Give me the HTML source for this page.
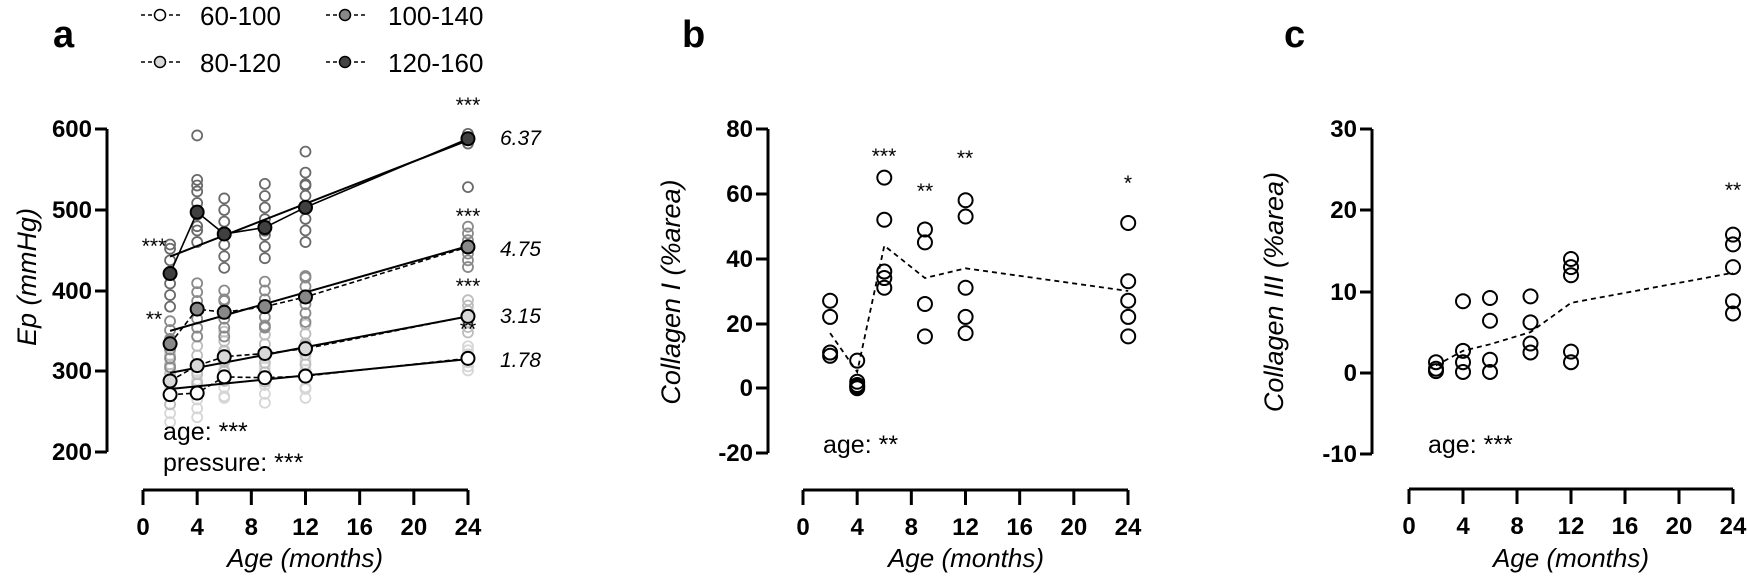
<!DOCTYPE html>
<html><head><meta charset="utf-8"><style>
body{margin:0;background:#fff}
svg{display:block}
text{font-family:"Liberation Sans",sans-serif}
.t{font-size:24px;font-weight:bold}
.it{font-style:italic}
</style></head><body>
<svg id="s" width="1748" height="587" viewBox="0 0 1748 587" xmlns="http://www.w3.org/2000/svg">
<g id="raw"></g>
<text x="53" y="47" font-size="38" font-weight="bold">a</text>
<text x="682" y="47" font-size="38" font-weight="bold">b</text>
<text x="1284" y="47" font-size="38" font-weight="bold">c</text>
<g stroke="#000" stroke-width="1.5" stroke-dasharray="4,3">
<line x1="141" y1="15" x2="180" y2="15"/><line x1="141" y1="62" x2="180" y2="62"/>
<line x1="326" y1="15" x2="365" y2="15"/><line x1="326" y1="62" x2="365" y2="62"/>
</g>
<g stroke="#000" stroke-width="1.5">
<circle cx="160" cy="15" r="5.5" fill="#fff"/><circle cx="160" cy="62" r="5.5" fill="#d8d8d8"/>
<circle cx="345" cy="15" r="5.5" fill="#888"/><circle cx="345" cy="62" r="5.5" fill="#444"/>
</g>
<g font-size="26"><text x="200" y="25">60-100</text><text x="200" y="72">80-120</text><text x="388" y="25">100-140</text><text x="388" y="72">120-160</text></g>

<g stroke="#000" stroke-width="3" fill="none" id="axes"></g>
<g id="txt"></g>
<g id="data"></g>

<text transform="translate(36,277) rotate(-90)" text-anchor="middle" font-size="27" class="it">Ep (mmHg)</text>
<g font-size="21" class="it"><text x="500" y="145">6.37</text><text x="500" y="256">4.75</text><text x="500" y="323">3.15</text><text x="500" y="367">1.78</text></g>
<text x="163" y="440" font-size="25">age: ***</text>
<text x="163" y="471" font-size="25">pressure: ***</text>
<g font-size="21" text-anchor="middle">
<text x="468" y="112">***</text><text x="468" y="223">***</text><text x="468" y="293">***</text><text x="468" y="336">**</text>
<text x="154" y="253">***</text><text x="154" y="326">**</text>
</g>
<text transform="translate(680,292) rotate(-90)" text-anchor="middle" font-size="27" class="it">Collagen I (%area)</text>
<text x="823" y="453" font-size="25">age: **</text>
<g font-size="21" text-anchor="middle"><text x="884" y="163">***</text><text x="925" y="198">**</text><text x="965" y="165">**</text><text x="1128" y="190">*</text></g>
<text transform="translate(1283,292) rotate(-90)" text-anchor="middle" font-size="27" class="it">Collagen III (%area)</text>
<text x="1428" y="453" font-size="25">age: ***</text>
<text x="1733" y="197" font-size="21" text-anchor="middle">**</text>
<g font-size="26" class="it" text-anchor="middle">
<text x="305" y="567">Age (months)</text><text x="966" y="567">Age (months)</text><text x="1571" y="567">Age (months)</text>
</g>
</svg>
<script>
const NS="http://www.w3.org/2000/svg";
function el(p,tag,a,txt){const e=document.createElementNS(NS,tag);for(const k in a)e.setAttribute(k,a[k]);if(txt!==undefined)e.textContent=txt;document.getElementById(p).appendChild(e);return e;}
function axis(xAx,yTop,yBot,yTicks,yLab,x0,x24,xy){
  el('axes','line',{x1:xAx,y1:yTop,x2:xAx,y2:yBot});
  yTicks.forEach((y,i)=>{el('axes','line',{x1:xAx-12,y1:y,x2:xAx,y2:y});
    el('txt','text',{x:xAx-15,y:y+8,'text-anchor':'end','class':'t'},yLab[i]);});
  el('axes','line',{x1:x0,y1:xy,x2:x24,y2:xy});
  for(let m=0;m<=24;m+=4){const x=x0+(x24-x0)*m/24;el('axes','line',{x1:x,y1:xy,x2:x,y2:xy+15});
    el('txt','text',{x:x,y:xy+45,'text-anchor':'middle','class':'t'},String(m));}
}
const ay=v=>129+(600-v)*0.8075, ax=m=>143+13.54*m;
axis(107,129,452,[129,210,291,371,452],['600','500','400','300','200'],143,468,490);
const by=v=>129+(80-v)*3.24, bx=m=>803+13.55*m;
axis(768,129,453,[129,194,259,324,388,453],['80','60','40','20','0','-20'],803,1128,490);
const cy=v=>129+(30-v)*8.125, cx=m=>1409+13.5*m;
axis(1372,129,454,[129,210,292,373,454],['30','20','10','0','-10'],1409,1733,489);

const ages=[2,4,6,9,12,24];
const groups=[
 {m:[271,273,293,292,294,316],fit:[278,315],fill:'#fff',raw:'#d6d6d6',sp:[30,30,30,30,30,15],dash:true},
 {m:[288,307,318,322,328,368],fit:[298,368],fill:'#d8d8d8',raw:'#bdbdbd',sp:[32,32,32,32,32,20],dash:true},
 {m:[334,377,373,380,392,454],fit:[350,455],fill:'#888',raw:'#8a8a8a',sp:[30,30,30,30,30,25],dash:true},
 {m:[421,497,470,478,503,588],fit:[442,586],fill:'#404040',raw:'#6a6a6a',sp:[40,40,40,40,40,6],dash:false}];
const extra={3:{1:[592,530],3:[532],4:[572,530],5:[528]}};
groups.forEach((g,gi)=>{ages.forEach((a,ai)=>{const n=(gi==3&&ai==5)?3:7;const sp=g.sp[ai];for(let k=0;k<n;k++){
  let v=g.m[ai]-sp+2*sp*k/(n-1)+(ai==5?0:((k*37+ai*13+gi*7)%9-4));
  el('raw','circle',{cx:ax(a),cy:ay(v),r:5,fill:'none',stroke:g.raw,'stroke-width':1.8});}
  const ex=(extra[gi]||{})[ai];if(ex)ex.forEach(v=>el('raw','circle',{cx:ax(a),cy:ay(v),r:5,fill:'none',stroke:g.raw,'stroke-width':1.8}));
});});
groups.forEach(g=>{
  const pts=ages.map((a,i)=>ax(a)+','+ay(g.m[i])).join(' ');
  el('data','polyline',{points:pts,fill:'none',stroke:'#000','stroke-width':1.6,'stroke-dasharray':g.dash?'5,3':'none'});
  el('data','line',{x1:ax(2),y1:ay(g.fit[0]),x2:ax(24),y2:ay(g.fit[1]),stroke:'#000','stroke-width':2});
  ages.forEach((a,i)=>el('data','circle',{cx:ax(a),cy:ay(g.m[i]),r:6.5,fill:g.fill,stroke:'#000','stroke-width':2}));
});
const bd={2:[27,22,11,10],4:[8.5,2,1,0.5,0],6:[65,52,36,34,31],9:[49,45,26,16],12:[58,53,31,22,17],24:[51,33,27,22,16]};
const bm=[17,5,44,34,37,30];
el('data','polyline',{points:ages.map((a,i)=>bx(a)+','+by(bm[i])).join(' '),fill:'none',stroke:'#000','stroke-width':1.8,'stroke-dasharray':'5,4'});
for(const a in bd)bd[a].forEach(v=>el('data','circle',{cx:bx(+a),cy:by(v),r:7,fill:'none',stroke:'#000','stroke-width':2}));
const cd={2:[1.3,0.5,0.2],4:[8.8,2.7,1.3,0.1],6:[9.2,6.4,1.6,0.1],9:[9.4,6.2,3.6,2.5],12:[14,13,12,2.6,1.3],24:[17,15.8,13,8.8,7.3]};
const cm=[0.9,2.7,3.5,5,8.6,12.3];
el('data','polyline',{points:ages.map((a,i)=>cx(a)+','+cy(cm[i])).join(' '),fill:'none',stroke:'#000','stroke-width':1.8,'stroke-dasharray':'5,4'});
for(const a in cd)cd[a].forEach(v=>el('data','circle',{cx:cx(+a),cy:cy(v),r:7,fill:'none',stroke:'#000','stroke-width':2}));
</script>
</body></html>
